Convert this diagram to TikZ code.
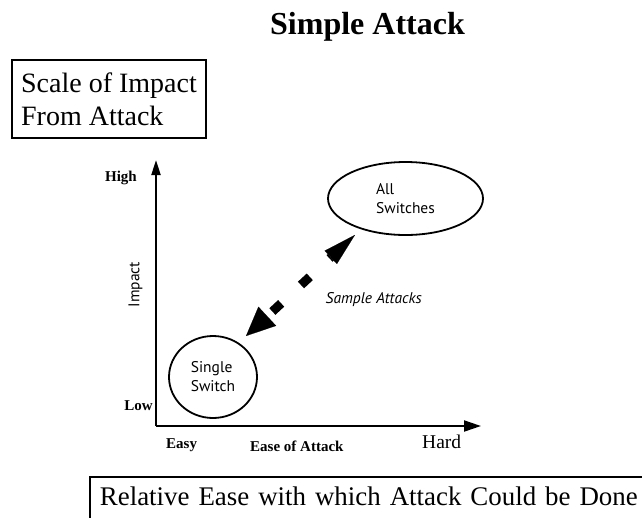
\documentclass[tikz,border=0pt]{standalone}
\usepackage{fontspec}
\setmainfont{Liberation Serif}
\newfontfamily\labelsans{PT Sans}
\usetikzlibrary{arrows.meta,shapes.geometric}
\begin{document}
\begin{tikzpicture}[x=1pt,y=-1pt,
  framebox/.style={draw, line width=1.8pt, rectangle, inner sep=0pt},
  bigtext/.style={font=\fontsize{28}{33}\selectfont},
  smallbold/.style={font=\bfseries\fontsize{15}{18}\selectfont, inner sep=0pt},
  sanslabel/.style={font=\labelsans\fontsize{15.5}{19}\selectfont, inner sep=0pt},
  bubble/.style={draw, line width=1.8pt, ellipse, inner sep=0pt, align=left,
    font=\labelsans\fontsize{15.5}{19}\selectfont},
  axis/.style={line width=2pt},
]
\useasboundingbox (0,0) rectangle (642,517);
\clip (0,0) rectangle (642,517);
\fill[white] (0,0) rectangle (642,517);

% title
\node[font=\bfseries\fontsize{32}{38}\selectfont, inner sep=0pt, anchor=base]
  (title) at (367.5,34.5) {Simple Attack};

% vertical scale box
\node[framebox, bigtext, align=left, minimum width=194pt, minimum height=78pt]
  (scale) at (109,99) {Scale of Impact\\From Attack};

% horizontal scale box (runs off the page)
\node[framebox, font=\fontsize{26.9}{32}\selectfont, anchor=north west, align=left, text width=560pt,
  inner xsep=10pt, inner ysep=10.4pt, text height=18.6pt, text depth=40pt]
  (ease) at (89,476) {Relative Ease with which Attack Could be Done};

% axes
\coordinate (O) at (156,426);
\coordinate (ytop) at (156,160);
\coordinate (xend) at (481,426);
\draw[axis, -{Triangle[length=15pt,width=9pt]}] (O) -- (ytop);
\draw[axis, -{Triangle[length=17pt,width=11pt]}] (O) -- (xend);

% axis labels
\node[smallbold, anchor=base east] (high) at (137,181) {High};
\node[smallbold, anchor=base east] (low) at (153,410) {Low};
\node[sanslabel, rotate=90] (impact) at (135.5,284.5) {Impact};
\node[smallbold, anchor=base west] (easy) at (166,448) {Easy};
\node[smallbold, anchor=base west] (easeatt) at (250,451) {Ease of Attack};
\node[font=\fontsize{19.5}{23}\selectfont, inner sep=0pt, anchor=base west]
  (hard) at (422,448) {Hard};

% bubbles
\node[bubble, minimum width=155pt, minimum height=73pt] (all) at (405.5,198.5)
  {All\\Switches};
\node[bubble, minimum width=88pt, minimum height=82pt] (single) at (213,377)
  {Single\\Switch};

% sample attacks connector
\draw[line width=9pt, dash pattern=on 12pt off 27pt, dash phase=32pt,
  {Triangle[length=29pt,width=26pt,line width=0.1pt]}-{Triangle[length=33pt,width=18pt,line width=0.1pt]},
  shorten <=52.1pt, shorten >=61.8pt,
  transform canvas={shift={(-5.2pt,5.6pt)}}] (single.center) -- (all.center);

\node[font=\labelsans\itshape\fontsize{15.5}{19}\selectfont, inner sep=0pt, anchor=base west]
  (sample) at (325.5,303) {Sample Attacks};
\end{tikzpicture}
\end{document}
